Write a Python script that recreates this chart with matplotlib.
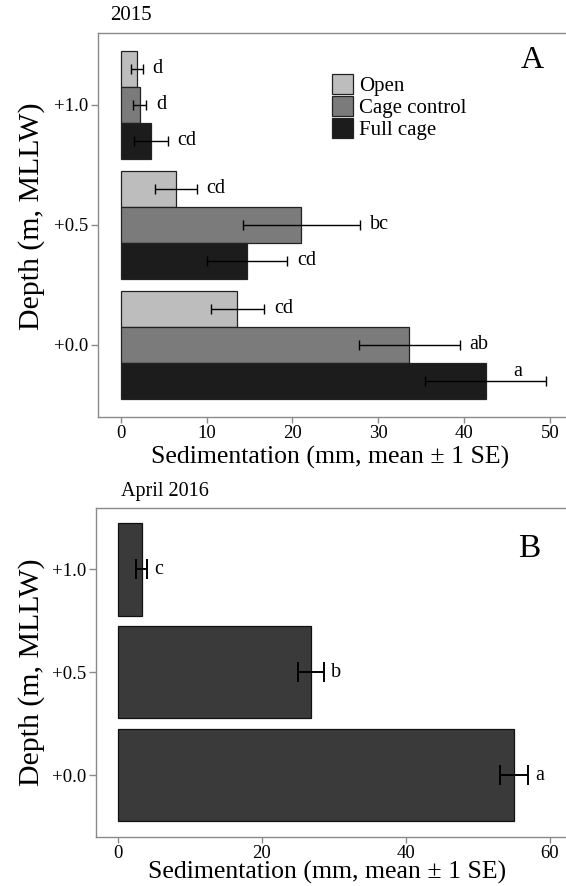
import matplotlib
matplotlib.use("Agg")
import matplotlib.pyplot as plt
from matplotlib.patches import Patch

plt.rcParams["font.family"] = ["Liberation Serif", "DejaVu Serif"]

# --- data ---
depths = ["+0.0", "+0.5", "+1.0"]
treatments = ["Open", "Cage control", "Full cage"]

# 2015, per depth (+0.0, +0.5, +1.0)
open_mean = [13.6, 6.45, 1.9]
open_se = [3.1, 2.4, 0.7]
cc_mean = [33.6, 21.05, 2.2]
cc_se = [5.85, 6.85, 0.8]
fc_mean = [42.5, 14.7, 3.55]
fc_se = [7.05, 4.7, 1.95]
letters_open = ["cd", "cd", "d"]
letters_cc = ["ab", "bc", "d"]
letters_fc = ["a", "cd", "cd"]

# April 2016
b_mean = [55.1, 26.8, 3.35]
b_se = [1.95, 1.8, 0.75]
letters_b = ["a", "b", "c"]

colors = ["#bdbdbd", "#7b7b7b", "#1c1c1c"]
spine_col = "#8a8a8a"

W, H = 566, 886
fig = plt.figure(figsize=(W / 100, H / 100), dpi=100)


def px_axes(left, top, right, bottom):
    return fig.add_axes([left / W, 1 - bottom / H, (right - left) / W, (bottom - top) / H])


def style(ax):
    for s in ax.spines.values():
        s.set_color(spine_col)
        s.set_linewidth(1.0)
    ax.tick_params(colors=spine_col, labelcolor="black", labelsize=13.5, length=4, width=1.0, pad=2)
    ax.tick_params(axis="y", length=5)
    ax.set_ylim(-0.6, 2.6)
    ax.set_yticks(range(len(depths)))
    ax.set_yticklabels(depths)
    ax.set_xlabel("Sedimentation (mm, mean \u00b1 1 SE)", fontsize=18.5)
    ax.set_ylabel("Depth (m, MLLW)", fontsize=21.5)


# ---- panel A ----
axA = px_axes(98, 33, 567, 416.7)
ypos = list(range(len(depths)))
h = 0.3
series = [(open_mean, open_se, letters_open, h),
          (cc_mean, cc_se, letters_cc, 0.0),
          (fc_mean, fc_se, letters_fc, -h)]
for (m, se, lab, off), c in zip(series, colors):
    yy = [y + off for y in ypos]
    axA.barh(yy, m, height=h, color=c, edgecolor="#222222", linewidth=0.9)
    axA.errorbar(m, yy, xerr=se, fmt="none", ecolor="black", elinewidth=1.0,
                 capsize=3.5, capthick=1.0)
    for x, e, y, t in zip(m, se, yy, lab):
        if t == "a":
            axA.text(46.2, y + 0.08, t, fontsize=14.5, ha="center", va="center")
        else:
            axA.annotate(t, (x + e, y), xytext=(7, 0), textcoords="offset points",
                         fontsize=14.5, ha="left", va="center")

axA.set_xlim(-2.64, 51.96)
axA.set_xticks([0, 10, 20, 30, 40, 50])
style(axA)
axA.xaxis.set_label_coords(0.495, -0.076)
axA.yaxis.set_label_coords(-0.113, 0.522)
axA.text(0.925, 0.928, "A", transform=axA.transAxes, fontsize=23, ha="center", va="center")
handles = [Patch(facecolor=c, edgecolor="#222222", linewidth=0.9) for c in colors]
axA.legend(handles, treatments, loc="upper left", bbox_to_anchor=(0.477, 0.92),
           frameon=False, fontsize=15, handlelength=1.0, handleheight=1.1,
           handletextpad=0.3, labelspacing=0.0, borderpad=0.0)
fig.text(110 / W, 1 - 15 / H, "2015", fontsize=15, ha="left", va="center")

# ---- panel B ----
axB = px_axes(96, 507.7, 567, 836.7)
axB.barh(ypos, b_mean, height=0.9, color="#3a3a3a", edgecolor="#111111", linewidth=0.9)
axB.errorbar(b_mean, ypos, xerr=b_se, fmt="none", ecolor="black", elinewidth=1.4,
             capsize=7, capthick=1.4)
for x, e, y, t in zip(b_mean, b_se, ypos, letters_b):
    axB.annotate(t, (x + e, y), xytext=(5, 0), textcoords="offset points",
                 fontsize=14.5, ha="left", va="center")
axB.set_xlim(-3.0, 62.4)
axB.set_xticks([0, 20, 40, 60])
style(axB)
axB.xaxis.set_label_coords(0.49, -0.074)
axB.yaxis.set_label_coords(-0.108, 0.5)
axB.text(0.92, 0.875, "B", transform=axB.transAxes, fontsize=24, ha="center", va="center")
fig.text(121 / W, 1 - 492 / H, "April 2016", fontsize=14.5, ha="left", va="center")

fig.savefig("out.png", dpi=100)
